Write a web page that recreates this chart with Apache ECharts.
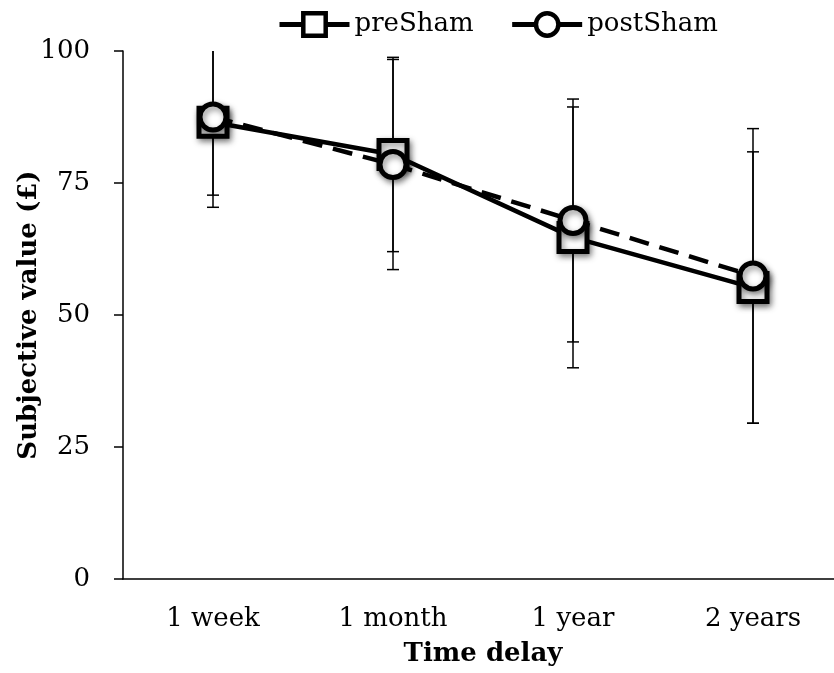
<!DOCTYPE html>
<html>
<head>
<meta charset="utf-8">
<script src="https://cdn.jsdelivr.net/npm/echarts@6/dist/echarts.min.js"></script>
<style>
  html, body { margin: 0; padding: 0; background: #fff; }
  #chart { width: 834px; height: 673px; }
</style>
</head>
<body>
<div id="chart"></div>
<script>
// Time delays on the horizontal axis
const categories = ['1 week', '1 month', '1 year', '2 years'];

// Mean subjective value (£) for each session
const preSham = [86.5, 80.4, 64.7, 55.2];
const postSham = [87.5, 78.5, 67.9, 57.4];

// Error bar half-widths (£)
const preShamErr = [16.1, 18.4, 24.7, 25.7];
const postShamErr = [14.8, 19.9, 23.0, 27.9];

// Y axis ticks
const yTicks = [0, 25, 50, 75, 100];

const FONT = 'DejaVu Serif';
const FS = 26;

function errorData(values, errs) {
  return values.map((v, i) => [i, v - errs[i], v + errs[i]]);
}

function renderErrorBar(params, api) {
  const x = api.value(0);
  const lo = api.coord([x, api.value(1)]);
  const hi = api.coord([x, api.value(2)]);
  const half = 6;
  const style = { stroke: '#000', lineWidth: 1.5, fill: null };
  return {
    type: 'group',
    children: [
      { type: 'line', shape: { x1: lo[0], y1: lo[1], x2: hi[0], y2: hi[1] }, style },
      { type: 'line', shape: { x1: lo[0] - half, y1: lo[1], x2: lo[0] + half, y2: lo[1] }, style },
      { type: 'line', shape: { x1: hi[0] - half, y1: hi[1], x2: hi[0] + half, y2: hi[1] }, style }
    ]
  };
}

const markerShadow = {
  shadowBlur: 6,
  shadowColor: 'rgba(0,0,0,0.45)',
  shadowOffsetX: 2,
  shadowOffsetY: 3
};

const chart = echarts.init(document.getElementById('chart'), null, { renderer: 'canvas' });

chart.setOption({
  animation: false,
  backgroundColor: '#fff',
  textStyle: { fontFamily: FONT, color: '#000' },
  grid: {
    left: 123, right: -9, top: 51, bottom: 94,
    containLabel: false,
    outerBoundsMode: 'none'
  },
  legend: {
    left: 272,
    top: 6,
    itemWidth: 70,
    itemHeight: 28,
    itemGap: 36,
    textStyle: { fontFamily: FONT, fontSize: FS, color: '#000' },
    itemStyle: { borderWidth: 4.5, borderColor: '#000', color: '#fff', shadowBlur: 0 },
    lineStyle: { width: 5, color: '#000', type: 'solid' },
    data: ['preSham', 'postSham']
  },
  xAxis: {
    type: 'category',
    data: categories,
    boundaryGap: true,
    name: 'Time delay',
    nameLocation: 'middle',
    nameGap: 62,
    nameMoveOverlap: false,
    nameTextStyle: { fontFamily: FONT, fontSize: FS, fontWeight: 'bold', color: '#000' },
    axisLine: { show: true, lineStyle: { color: '#000', width: 1.5 } },
    axisTick: { show: false },
    axisLabel: { fontFamily: FONT, fontSize: FS, color: '#000', margin: 27 },
    splitLine: { show: false }
  },
  yAxis: {
    type: 'value',
    min: yTicks[0],
    max: yTicks[yTicks.length - 1],
    interval: 25,
    name: 'Subjective value (£)',
    nameLocation: 'middle',
    nameGap: 81,
    nameRotate: 90,
    nameMoveOverlap: false,
    nameTextStyle: { fontFamily: FONT, fontSize: FS, fontWeight: 'bold', color: '#000' },
    axisLine: { show: true, lineStyle: { color: '#000', width: 1.5 } },
    axisTick: { show: true, inside: false, length: 9, lineStyle: { color: '#000', width: 1.5 } },
    axisLabel: { fontFamily: FONT, fontSize: FS, color: '#000', margin: 33 },
    splitLine: { show: false }
  },
  series: [
    {
      name: 'preSham err',
      type: 'custom',
      renderItem: renderErrorBar,
      data: errorData(preSham, preShamErr),
      encode: { x: 0, y: [1, 2] },
      clip: true,
      z: 1,
      silent: true
    },
    {
      name: 'postSham err',
      type: 'custom',
      renderItem: renderErrorBar,
      data: errorData(postSham, postShamErr),
      encode: { x: 0, y: [1, 2] },
      clip: true,
      z: 1,
      silent: true
    },
    {
      name: 'preSham',
      type: 'line',
      data: preSham,
      symbol: 'rect',
      symbolSize: 28,
      lineStyle: { color: '#000', width: 4.5, type: 'solid' },
      itemStyle: Object.assign({ color: '#fff', borderColor: '#000', borderWidth: 5 }, markerShadow),
      z: 3
    },
    {
      name: 'postSham',
      type: 'line',
      data: postSham,
      symbol: 'circle',
      symbolSize: 26,
      lineStyle: { color: '#000', width: 4.5, type: [20, 11] },
      itemStyle: Object.assign({ color: '#fff', borderColor: '#000', borderWidth: 5 }, markerShadow),
      z: 4
    }
  ]
});
</script>
</body>
</html>
